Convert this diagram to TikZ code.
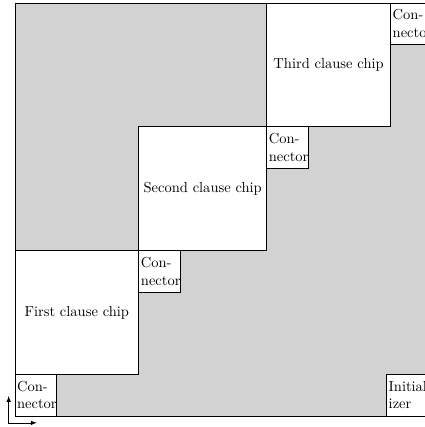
\documentclass[tikz,border=0pt]{standalone}
\usetikzlibrary{positioning}
\tikzset{
    chip/.style={draw, rectangle, fill=white, minimum width=3cm, minimum height=3cm, outer sep=0pt},
    conn/.style={draw, rectangle, fill=white, minimum width=1cm, minimum height=1cm, outer sep=0pt, inner sep=1.5pt, text width=1cm-3pt, align=left}
}
\begin{document}
\begin{tikzpicture}[>=latex]
    \useasboundingbox (-0.36,-0.27) rectangle (9.93,10.07);

    % Board
    \node[draw, rectangle, fill=gray!35, minimum width=10cm, minimum height=10cm, inner sep=0pt, outer sep=0pt, anchor=south west] (board) at (0,0) {};

    % Chips and connectors along the diagonal
    \node[conn, anchor=south west] (conn0) at (board.south west) {Con-\\nector};
    \node[chip, anchor=south west] (chip1) at (conn0.north west) {First clause chip};
    \node[conn, anchor=north west] (conn1) at (chip1.north east) {Con-\\nector};
    \node[chip, anchor=south west] (chip2) at (chip1.north east) {Second clause chip};
    \node[conn, anchor=north west] (conn2) at (chip2.north east) {Con-\\nector};
    \node[chip, anchor=south west] (chip3) at (chip2.north east) {Third clause chip};
    \node[conn, anchor=north west] (conn3) at (chip3.north east) {Con-\\nector};

    % Initializer
    \node[conn, anchor=south east] (init) at (board.south east) {\mbox{Initial-}\\izer};

    % Axes
    \coordinate (corner) at (-0.15,-0.17);
    \coordinate (up) at (-0.15,0.48);
    \coordinate (right) at (0.53,-0.17);
    \draw[<->] (up) -- (corner) -- (right);
\end{tikzpicture}
\end{document}
